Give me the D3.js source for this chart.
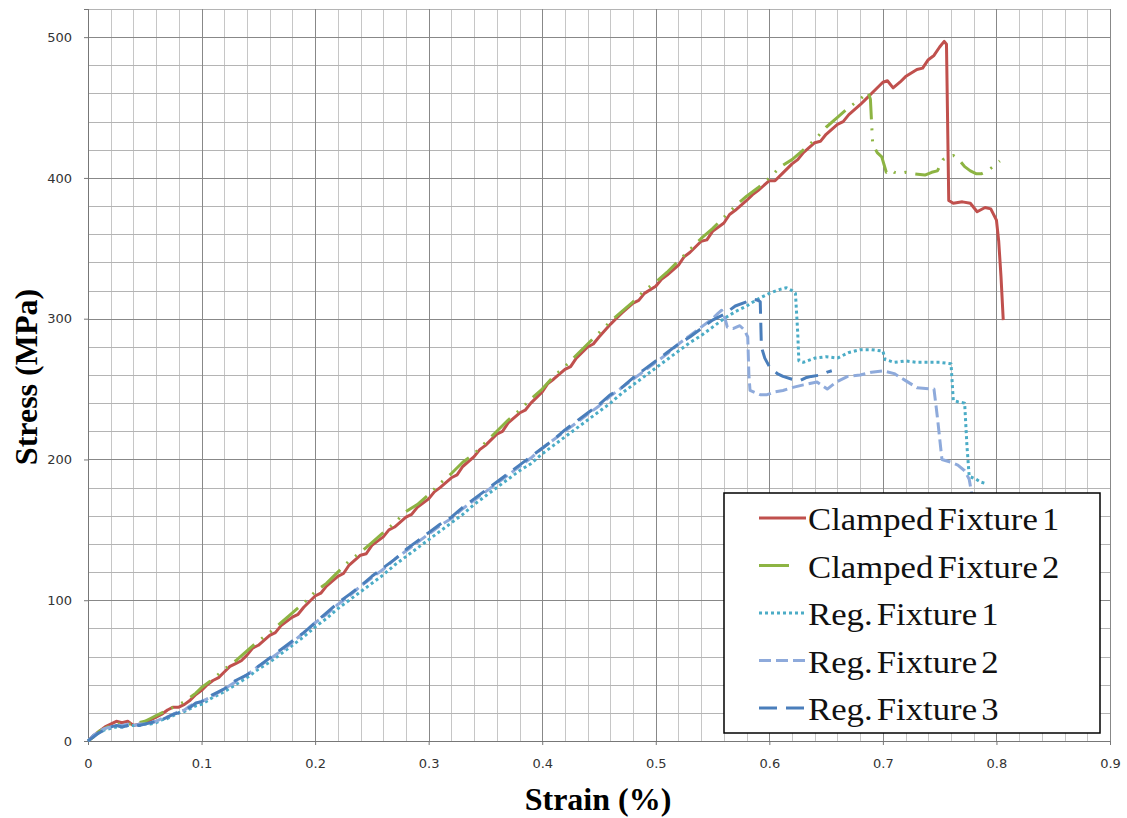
<!DOCTYPE html>
<meta charset="utf-8">
<style>
  body { margin: 0; background: #fff; }
  .tick text { font-family: "DejaVu Sans", sans-serif; font-size: 13px; fill: #333; }
  .grid line { shape-rendering: crispEdges; }
  .grid path { display: none; }
</style>
<body>
<svg width="1127" height="818"></svg>
<script src="https://d3js.org/d3.v7.min.js"></script>
<script>
// series names and look
var seriesNames = ["Clamped Fixture 1", "Clamped Fixture 2", "Reg. Fixture 1", "Reg. Fixture 2", "Reg. Fixture 3"];
var seriesColors = ["#c0504d", "#8db443", "#4bacc6", "#8eaadb", "#4a7ebb"];
var seriesDash = [null, "26,9,2,9,2,9", "3,3", "12,5", "18,9"];

// tick labels
var xTicks = [0, 0.1, 0.2, 0.3, 0.4, 0.5, 0.6, 0.7, 0.8, 0.9];
var yTicks = [0, 100, 200, 300, 400, 500];

// [strain %, stress MPa]
var clamped1 = [[0,0],[0.005,4],[0.01,7],[0.015,10],[0.02,12],[0.025,14],[0.03,13],[0.035,14],[0.04,11],[0.045,12],[0.05,13],[0.055,15],[0.06,17],[0.065,19],[0.07,22],[0.075,24],[0.08,24],[0.085,26],[0.09,29],[0.095,33],[0.1,36],[0.105,40],[0.11,43],[0.115,45],[0.12,49],[0.125,53],[0.13,55],[0.135,57],[0.14,61],[0.145,66],[0.15,68],[0.16,75],[0.165,77],[0.17,82],[0.18,88],[0.185,90],[0.19,95],[0.2,103],[0.205,105],[0.21,110],[0.22,117],[0.225,119],[0.23,125],[0.24,132],[0.245,133],[0.25,139],[0.26,145],[0.265,150],[0.27,152],[0.28,159],[0.285,161],[0.29,166],[0.3,172],[0.305,177],[0.31,180],[0.32,187],[0.325,189],[0.33,195],[0.34,202],[0.345,207],[0.35,210],[0.36,218],[0.365,220],[0.37,226],[0.38,233],[0.385,235],[0.39,240],[0.4,248],[0.405,254],[0.41,257],[0.42,264],[0.425,266],[0.43,272],[0.44,280],[0.445,282],[0.45,287],[0.46,296],[0.465,300],[0.47,304],[0.48,311],[0.485,313],[0.49,318],[0.5,323],[0.505,328],[0.51,331],[0.52,338],[0.525,344],[0.53,347],[0.54,355],[0.545,356],[0.55,362],[0.56,368],[0.565,374],[0.57,377],[0.58,384],[0.585,388],[0.59,391],[0.6,398],[0.605,398],[0.61,402],[0.62,410],[0.625,413],[0.63,418],[0.64,425],[0.645,426],[0.65,431],[0.66,438],[0.665,440],[0.67,445],[0.68,452],[0.685,456],[0.69,460],[0.7,468],[0.704,469],[0.709,464],[0.715,468],[0.72,472],[0.73,477],[0.735,478],[0.74,484],[0.745,487],[0.75,493],[0.754,497],[0.756,495],[0.758,384],[0.762,382],[0.77,383],[0.777,382],[0.783,376],[0.79,379],[0.795,378],[0.8,370],[0.802,355],[0.804,330],[0.806,299]];

var clamped2 = [[0,0],[0.005,3],[0.01,7],[0.015,9],[0.02,11],[0.025,12],[0.03,12],[0.035,12],[0.04,12],[0.045,13],[0.05,14],[0.055,16],[0.06,18],[0.065,20],[0.07,22],[0.075,24],[0.08,26],[0.085,28],[0.09,31],[0.095,34],[0.1,38],[0.11,44],[0.12,51],[0.13,57],[0.14,64],[0.15,71],[0.16,77],[0.17,84],[0.18,91],[0.19,98],[0.2,106],[0.21,112],[0.22,120],[0.23,128],[0.24,134],[0.25,141],[0.26,148],[0.27,155],[0.28,163],[0.29,168],[0.3,175],[0.31,183],[0.32,190],[0.33,198],[0.34,204],[0.35,212],[0.36,220],[0.37,228],[0.38,235],[0.39,243],[0.4,250],[0.41,259],[0.42,266],[0.43,274],[0.44,282],[0.45,290],[0.46,298],[0.47,305],[0.48,312],[0.49,320],[0.5,326],[0.51,333],[0.52,341],[0.53,349],[0.54,357],[0.55,364],[0.56,372],[0.57,380],[0.58,387],[0.59,393],[0.6,400],[0.61,408],[0.62,413],[0.63,420],[0.64,427],[0.65,436],[0.66,443],[0.67,450],[0.68,456],[0.687,461],[0.689,456],[0.69,440],[0.691,424],[0.695,418],[0.699,415],[0.703,404],[0.707,406],[0.71,404],[0.715,403],[0.72,404],[0.727,403],[0.737,402],[0.743,404],[0.748,405],[0.753,413],[0.758,415],[0.762,416],[0.767,413],[0.772,408],[0.777,405],[0.782,403],[0.787,403],[0.792,405],[0.797,408],[0.8,410],[0.803,412]];

var reg1 = [[0,0],[0.005,4],[0.01,6],[0.015,8],[0.02,9],[0.025,10],[0.03,10],[0.035,11],[0.04,11],[0.045,11],[0.05,12],[0.055,12],[0.06,13],[0.065,15],[0.07,16],[0.075,18],[0.08,20],[0.085,21],[0.09,23],[0.095,25],[0.1,26],[0.11,31],[0.12,35],[0.13,40],[0.14,45],[0.15,51],[0.16,56],[0.17,62],[0.18,68],[0.19,74],[0.2,81],[0.21,87],[0.22,94],[0.23,100],[0.24,106],[0.25,112],[0.26,118],[0.27,125],[0.28,131],[0.29,137],[0.3,143],[0.31,149],[0.32,155],[0.33,161],[0.34,168],[0.35,174],[0.36,180],[0.37,186],[0.38,192],[0.39,197],[0.4,204],[0.41,210],[0.42,216],[0.43,222],[0.44,228],[0.45,234],[0.46,240],[0.47,247],[0.48,253],[0.49,259],[0.5,265],[0.51,271],[0.52,277],[0.53,283],[0.54,288],[0.55,294],[0.56,300],[0.57,305],[0.58,309],[0.59,314],[0.6,318],[0.61,321],[0.615,322],[0.62,320],[0.623,318],[0.625,290],[0.626,270],[0.63,269],[0.64,272],[0.65,273],[0.66,272],[0.67,276],[0.68,278],[0.69,278],[0.7,277],[0.702,271],[0.71,269],[0.72,270],[0.73,269],[0.74,269],[0.75,269],[0.76,268],[0.762,242],[0.766,241],[0.772,240],[0.774,210],[0.776,188],[0.782,186],[0.786,184],[0.79,183]];

var reg2 = [[0,0],[0.005,4],[0.01,7],[0.015,9],[0.02,10],[0.025,11],[0.03,11],[0.035,12],[0.04,11],[0.045,12],[0.05,12],[0.055,13],[0.06,14],[0.065,16],[0.07,17],[0.075,19],[0.08,21],[0.085,22],[0.09,25],[0.095,27],[0.1,28],[0.11,32],[0.12,37],[0.13,42],[0.14,47],[0.15,53],[0.16,58],[0.17,64],[0.18,70],[0.19,77],[0.2,84],[0.21,90],[0.22,97],[0.23,103],[0.24,110],[0.25,116],[0.26,122],[0.27,129],[0.28,135],[0.29,141],[0.3,147],[0.31,153],[0.32,158],[0.33,165],[0.34,171],[0.35,177],[0.36,183],[0.37,189],[0.38,195],[0.39,201],[0.4,208],[0.41,214],[0.42,220],[0.43,226],[0.44,232],[0.45,238],[0.46,245],[0.47,251],[0.48,257],[0.49,263],[0.5,269],[0.51,275],[0.52,282],[0.53,288],[0.54,294],[0.55,300],[0.555,304],[0.558,306],[0.561,300],[0.563,294],[0.568,293],[0.574,295],[0.578,292],[0.581,287],[0.582,260],[0.583,249],[0.586,248],[0.592,246],[0.598,246],[0.605,248],[0.612,249],[0.62,251],[0.63,253],[0.642,255],[0.651,250],[0.659,255],[0.669,259],[0.68,260],[0.69,262],[0.7,263],[0.71,261],[0.72,256],[0.73,251],[0.745,250],[0.748,230],[0.752,200],[0.76,198],[0.766,196],[0.772,192],[0.776,186],[0.779,172],[0.781,165]];

var reg3 = [[0,0],[0.005,3],[0.01,6],[0.015,8],[0.02,10],[0.025,11],[0.03,10],[0.035,11],[0.04,12],[0.045,11],[0.05,12],[0.055,13],[0.06,14],[0.065,15],[0.07,17],[0.075,19],[0.08,20],[0.085,22],[0.09,24],[0.095,27],[0.1,28],[0.11,33],[0.12,37],[0.13,43],[0.14,47],[0.15,53],[0.16,59],[0.17,65],[0.18,71],[0.19,77],[0.2,84],[0.21,91],[0.22,98],[0.23,104],[0.24,110],[0.25,117],[0.26,123],[0.27,129],[0.28,136],[0.29,142],[0.3,148],[0.31,154],[0.32,159],[0.33,166],[0.34,172],[0.35,178],[0.36,184],[0.37,190],[0.38,196],[0.39,202],[0.4,208],[0.41,214],[0.42,221],[0.43,227],[0.44,233],[0.45,239],[0.46,246],[0.47,251],[0.48,258],[0.49,264],[0.5,270],[0.51,276],[0.52,282],[0.53,287],[0.54,293],[0.55,299],[0.56,303],[0.57,309],[0.58,312],[0.585,314],[0.59,313],[0.592,312],[0.593,280],[0.596,272],[0.6,266],[0.607,261],[0.612,259],[0.62,257],[0.627,256],[0.632,258],[0.637,259],[0.645,260],[0.651,262],[0.655,263]];

var allSeries = [clamped1, clamped2, reg1, reg2, reg3];

var svg = d3.select("svg");
var x = d3.scaleLinear().domain([0, 0.9]).range([88, 1110]);
var y = d3.scaleLinear().domain([0, 520]).range([741, 9]);

// minor grid
svg.append("g").attr("class", "grid")
    .attr("transform", "translate(0,741)")
    .call(d3.axisBottom(x).tickValues(d3.range(0, 0.9001, 0.02)).tickSize(-732).tickFormat(""))
    .selectAll("line").attr("stroke", "#c6c6c6");
svg.append("g").attr("class", "grid")
    .attr("transform", "translate(88,0)")
    .call(d3.axisLeft(y).tickValues(d3.range(0, 520.1, 20)).tickSize(-1022).tickFormat(""))
    .selectAll("line").attr("stroke", "#b4b4b4");

// major grid
svg.append("g").attr("class", "grid")
    .attr("transform", "translate(0,741)")
    .call(d3.axisBottom(x).tickValues(xTicks).tickSize(-732).tickFormat(""))
    .selectAll("line").attr("stroke", "#888");
svg.append("g").attr("class", "grid")
    .attr("transform", "translate(88,0)")
    .call(d3.axisLeft(y).tickValues(yTicks).tickSize(-1022).tickFormat(""))
    .selectAll("line").attr("stroke", "#888");

// axes with labels
var xAxis = svg.append("g")
    .attr("transform", "translate(0,741)")
    .call(d3.axisBottom(x).tickValues(xTicks).tickSize(4).tickPadding(14).tickFormat(d3.format("")));
var yAxis = svg.append("g")
    .attr("transform", "translate(88,0)")
    .call(d3.axisLeft(y).tickValues(yTicks).tickSize(4).tickPadding(12));
[xAxis, yAxis].forEach(function (a) {
    a.select(".domain").attr("stroke", "#777");
    a.selectAll(".tick line").attr("stroke", "#777");
});

// lines
var line = d3.line().x(function (d) { return x(d[0]); }).y(function (d) { return y(d[1]); });
allSeries.forEach(function (s, i) {
    svg.append("path")
        .datum(s)
        .attr("fill", "none")
        .attr("stroke", seriesColors[i])
        .attr("stroke-width", 3)
        .attr("stroke-linejoin", "round")
        .attr("stroke-dasharray", seriesDash[i])
        .attr("d", line);
});

// axis titles
svg.append("text")
    .attr("x", 598).attr("y", 810)
    .attr("text-anchor", "middle")
    .style("font", "bold 32px 'Liberation Serif', serif")
    .text("Strain (%)");
svg.append("text")
    .attr("transform", "translate(37,377) rotate(-90)")
    .attr("text-anchor", "middle")
    .style("font", "bold 32px 'Liberation Serif', serif")
    .text("Stress (MPa)");

// legend
var legend = svg.append("g");
legend.append("rect")
    .attr("x", 724).attr("y", 493).attr("width", 376).attr("height", 240)
    .attr("fill", "#fff").attr("stroke", "#000").attr("stroke-width", 1.5);
seriesNames.forEach(function (name, i) {
    var ly = 518 + i * 47.5;
    legend.append("line")
        .attr("x1", 759).attr("x2", 806).attr("y1", ly).attr("y2", ly)
        .attr("stroke", seriesColors[i]).attr("stroke-width", 3)
        .attr("stroke-dasharray", i == 1 ? "30,40" : seriesDash[i]);
    // text in the reference is a bit stretched sideways
    legend.append("text")
        .attr("transform", "translate(808," + (ly + 12) + ") scale(1.12,1)")
        .style("font", "31px 'Liberation Serif', serif")
        .style("word-spacing", "-4px")
        .attr("fill", "#111")
        .text(name);
});
</script>
</body>
